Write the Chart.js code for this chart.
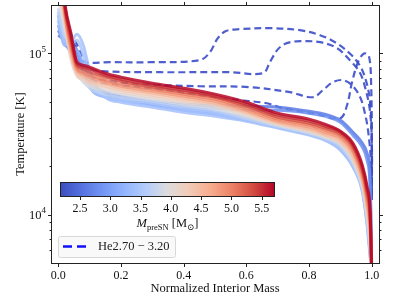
<!DOCTYPE html>
<html>
<head>
<meta charset="utf-8">
<script src="https://cdn.jsdelivr.net/npm/chart.js@4.4.1/dist/chart.umd.min.js"></script>
<style>
  html, body { margin: 0; padding: 0; background: #fff; }
  #wrap { width: 399px; height: 299px; }
</style>
</head>
<body>
<div id="wrap"><canvas id="chart"></canvas></div>
<script>
// normalized interior mass grid shared by the coloured runs
var massGrid = [0, 0.02, 0.04, 0.06, 0.08, 0.1, 0.15, 0.2, 0.3, 0.4, 0.5, 0.6, 0.7, 0.8, 0.85, 0.9, 0.94, 0.97, 0.985, 0.995, 1.0];

// pre-SN masses [Msun] of the coloured runs
var preSNMasses = [2.6, 2.8, 3.0, 3.2, 3.4, 3.5, 3.7, 3.9, 4.1, 4.3, 4.5, 4.8, 5.0, 5.3, 5.5, 5.7];

// temperature [K] along massGrid, one array per run
var tempM26 = [129900, 120900, 104800, 93500, 81000, 66300, 57500, 54300, 50500, 48400, 47700, 47100, 46400, 43800, 42000, 38500, 32400, 27700, 24000, 16300, 4200];
var tempM28 = [139500, 117500, 101900, 90900, 76500, 62600, 55900, 53500, 49100, 47100, 45700, 44400, 44400, 42600, 40800, 37400, 31100, 26200, 21700, 14200, 4200];
var tempM30 = [150000, 114200, 107900, 97600, 78800, 64500, 55100, 52800, 48400, 45700, 43200, 39600, 35400, 32000, 30200, 26600, 20800, 14600, 9480, 6000, 4200];
var tempM32 = [173000, 117500, 111000, 104800, 84600, 62600, 53500, 51300, 47700, 44400, 42000, 38500, 34900, 31500, 29400, 25400, 20000, 14200, 8960, 5590, 4200];
var tempM34 = [161000, 112600, 117500, 131800, 112600, 78800, 53500, 49800, 46400, 43200, 40800, 38000, 34400, 31100, 28900, 25100, 19700, 13800, 8580, 5350, 4200];
var tempM35 = [180500, 120900, 114200, 120900, 97600, 68300, 54300, 52000, 49100, 45700, 43200, 39100, 34900, 31500, 29400, 25800, 20200, 14200, 8960, 5670, 4200];
var tempM37 = [191000, 129900, 117500, 88300, 68300, 60900, 55900, 53500, 50500, 47100, 44400, 39600, 35400, 32000, 29800, 26600, 20800, 14600, 9480, 6000, 4200];
var tempM39 = [214000, 150000, 104800, 76500, 66300, 62600, 58300, 55900, 52000, 48400, 45700, 40800, 35900, 32400, 30200, 27300, 21400, 15000, 9900, 6350, 4200];
var tempM41 = [247000, 156000, 93500, 72300, 68300, 64500, 60900, 57500, 53500, 49800, 47100, 41400, 36400, 32900, 30600, 27700, 22100, 15400, 10300, 6630, 4200];
var tempM43 = [285000, 166000, 97600, 74400, 70200, 66300, 62600, 59200, 55100, 51300, 48400, 42600, 36900, 33400, 31100, 28100, 22700, 15900, 10800, 6920, 4200];
var tempM45 = [329000, 173000, 101900, 76500, 72300, 68300, 64500, 60900, 56700, 52800, 49100, 43200, 37400, 33900, 31500, 28900, 23300, 16300, 11300, 7440, 4200];
var tempM48 = [380000, 180500, 107900, 78800, 74400, 71300, 66300, 62600, 58300, 54300, 50500, 44400, 38000, 34900, 32400, 29800, 24400, 17000, 11900, 7990, 4200];
var tempM50 = [438000, 186000, 112600, 81000, 76500, 73300, 68300, 64500, 60000, 55900, 52000, 45700, 39100, 35900, 33400, 30600, 25100, 17800, 12600, 8580, 4200];
var tempM53 = [505000, 197000, 120900, 83400, 79900, 76500, 71300, 67300, 61800, 57500, 53500, 47100, 40200, 36900, 34400, 31500, 26200, 18600, 13400, 9220, 4200];
var tempM55 = [583000, 205000, 128100, 85800, 82200, 79900, 73300, 69200, 63500, 59200, 54300, 48400, 41400, 38000, 35400, 32400, 26900, 19400, 14200, 9900, 4200];
var tempM57 = [673000, 214000, 135600, 88300, 84600, 82200, 75400, 71300, 65400, 60900, 55900, 49800, 42600, 39100, 36400, 32900, 27700, 20200, 15000, 10300, 4200];

var runTemps = [tempM26, tempM28, tempM30, tempM32, tempM34, tempM35, tempM37, tempM39,
                tempM41, tempM43, tempM45, tempM48, tempM50, tempM53, tempM55, tempM57];

// He2.70 - 3.20 runs (dashed): mass coordinate and temperature [K]
var heMassA = [0.037, 0.065, 0.085, 0.165, 0.293, 0.452, 0.484, 0.509, 0.535, 0.580, 0.675, 0.771, 0.835, 0.883, 0.930, 0.963, 0.981, 0.994, 1.0, 1.0];
var heTempA = [139500, 97600, 88300, 88300, 88300, 90900, 102000, 124500, 137800, 141600, 143600, 139500, 129900, 117500, 100000, 83400, 68300, 51300, 28900, 12300];
var heMassB = [0.053, 0.101, 0.139, 0.325, 0.548, 0.653, 0.675, 0.701, 0.729, 0.771, 0.835, 0.889, 0.930, 0.963, 0.981, 0.994, 1.0, 1.0];
var heTempB = [120900, 81000, 77600, 76500, 76500, 75400, 88300, 106400, 115900, 119200, 117500, 107900, 90900, 75400, 59200, 44400, 28900, 12300];
var heMassC = [0.053, 0.101, 0.197, 0.340, 0.452, 0.611, 0.739, 0.812, 0.844, 0.876, 0.908, 0.937, 0.963, 0.978, 0.988, 0.997, 1.0];
var heTempC = [112600, 73300, 66300, 63500, 62600, 61800, 57500, 53500, 59200, 66300, 68300, 63500, 53500, 42600, 33400, 21700, 12300];
var heMassD = [0.053, 0.101, 0.197, 0.293, 0.452, 0.548, 0.665, 0.716, 0.825, 0.899, 0.921, 0.937, 0.956, 0.975, 0.991, 0.998, 1.0, 1.0];
var heTempD = [104800, 70200, 63500, 60900, 55100, 52000, 49100, 45700, 42000, 39600, 47700, 66300, 88300, 100000, 96200, 63500, 28900, 12300];

var heRuns = [[heMassA, heTempA], [heMassB, heTempB], [heMassC, heTempC], [heMassD, heTempD]];

// ticks
var xTicks = [0.0, 0.2, 0.4, 0.6, 0.8, 1.0];
var yMajorTicks = [1e4, 1e5];
var yMinorTicks = [6000, 7000, 8000, 9000, 20000, 30000, 40000, 50000, 60000, 70000, 80000, 90000];
var cbTicks = [2.5, 3.0, 3.5, 4.0, 4.5, 5.0, 5.5];
var cbMin = 2.17, cbMax = 5.72;

var SERIF = '"Liberation Serif", "DejaVu Serif", serif';

// matplotlib coolwarm, sampled every 0.1
var cwStops = [[59,76,192],[85,114,223],[115,150,245],[147,181,254],[181,205,250],[221,220,220],
               [242,203,183],[247,172,142],[236,129,101],[210,75,64],[180,4,38]];
function coolwarm(t, a) {
    t = Math.max(0, Math.min(1, t));
    var f = t * 10, i = Math.min(9, Math.floor(f)), r = f - i;
    var c0 = cwStops[i], c1 = cwStops[i + 1];
    var c = [0, 1, 2].map(function(k) { return Math.round(c0[k] + (c1[k] - c0[k]) * r); });
    return 'rgba(' + c[0] + ',' + c[1] + ',' + c[2] + ',' + (a === undefined ? 1 : a) + ')';
}

var datasets = [];
preSNMasses.forEach(function(m, i) {
    datasets.push({
        data: massGrid.map(function(x, j) { return { x: x, y: runTemps[i][j] }; }),
        borderColor: coolwarm((m - cbMin) / (cbMax - cbMin), 0.85),
        borderWidth: 3,
        pointRadius: 0,
        cubicInterpolationMode: 'monotone',
        clip: 0,
        order: preSNMasses.length - i
    });
});
heRuns.forEach(function(run) {
    datasets.push({
        data: run[0].map(function(x, j) { return { x: x, y: run[1][j] }; }),
        borderColor: 'rgba(59,76,200,0.9)',
        borderWidth: 2.2,
        borderDash: [7, 4],
        pointRadius: 0,
        tension: 0.35,
        clip: 0,
        order: 100
    });
});

// frame, tick marks, y labels, colorbar and legend
var decorations = {
    id: 'decorations',
    afterDraw: function(chart) {
        var ctx = chart.ctx, a = chart.chartArea;
        var xs = chart.scales.x, ys = chart.scales.y;
        var L = Math.round(a.left) + 0.5, R = Math.round(a.right) + 0.5;
        var T = Math.round(a.top) + 0.5, B = Math.round(a.bottom) + 0.5;
        ctx.save();
        ctx.strokeStyle = '#222';
        ctx.lineWidth = 1;
        ctx.strokeRect(L, T, R - L, B - T);

        ctx.beginPath();
        xTicks.forEach(function(v) {
            var px = Math.round(xs.getPixelForValue(v)) + 0.5;
            ctx.moveTo(px, B); ctx.lineTo(px, B + 3.5);
            ctx.moveTo(px, T); ctx.lineTo(px, T - 3.5);
        });
        yMajorTicks.forEach(function(v) {
            var py = Math.round(ys.getPixelForValue(v)) + 0.5;
            ctx.moveTo(L - 3.5, py); ctx.lineTo(L, py);
            ctx.moveTo(R, py); ctx.lineTo(R + 3.5, py);
        });
        yMinorTicks.forEach(function(v) {
            var py = Math.round(ys.getPixelForValue(v)) + 0.5;
            ctx.moveTo(L - 2, py); ctx.lineTo(L, py);
            ctx.moveTo(R, py); ctx.lineTo(R + 2, py);
        });
        ctx.stroke();

        // y tick labels 10^k
        ctx.fillStyle = '#111';
        ctx.textAlign = 'right';
        ctx.textBaseline = 'alphabetic';
        yMajorTicks.forEach(function(v) {
            var py = ys.getPixelForValue(v);
            var exp = String(Math.round(Math.log10(v)));
            var xr = a.left - 5;
            ctx.font = '9px ' + SERIF;
            var ew = ctx.measureText(exp).width;
            ctx.fillText(exp, xr, py - 1.5);
            ctx.font = '12.5px ' + SERIF;
            ctx.fillText('10', xr - ew, py + 4.5);
        });

        // colorbar
        var cx0 = 60, cx1 = 275, cy0 = 182, cy1 = 197;
        var grad = ctx.createLinearGradient(cx0, 0, cx1, 0);
        cwStops.forEach(function(c, k) {
            grad.addColorStop(k / 10, 'rgb(' + c.join(',') + ')');
        });
        ctx.fillStyle = grad;
        ctx.fillRect(cx0, cy0, cx1 - cx0, cy1 - cy0);
        ctx.strokeStyle = '#222';
        ctx.strokeRect(cx0 + 0.5, cy0 + 0.5, cx1 - cx0 - 1, cy1 - cy0 - 1);
        ctx.fillStyle = '#111';
        ctx.textAlign = 'center';
        ctx.textBaseline = 'middle';
        ctx.font = '12px ' + SERIF;
        ctx.beginPath();
        cbTicks.forEach(function(v) {
            var px = cx0 + (v - cbMin) / (cbMax - cbMin) * (cx1 - cx0);
            ctx.moveTo(Math.round(px) + 0.5, cy1);
            ctx.lineTo(Math.round(px) + 0.5, cy1 + 3);
            ctx.fillText(v.toFixed(1), px, 208.5);
        });
        ctx.stroke();

        // colorbar label: M_preSN [M_sun]
        var parts = [
            ['M', 'italic 12.5px ' + SERIF, 0],
            ['preSN', '8.5px ' + SERIF, 3],
            [' [M', '12.5px ' + SERIF, 0],
            ['\u2299', '8.5px ' + SERIF, 3],
            [']', '12.5px ' + SERIF, 0]
        ];
        var total = 0;
        parts.forEach(function(p) { ctx.font = p[1]; p.push(ctx.measureText(p[0]).width); total += p[3]; });
        var tx = (cx0 + cx1) / 2 - total / 2;
        ctx.textAlign = 'left';
        ctx.textBaseline = 'alphabetic';
        parts.forEach(function(p) {
            ctx.font = p[1];
            ctx.fillText(p[0], tx, 227 + p[2]);
            tx += p[3];
        });

        // legend
        var lx = 58, ly = 236, lw = 117, lh = 21;
        ctx.beginPath();
        ctx.roundRect(lx + 0.5, ly + 0.5, lw, lh, 2);
        ctx.fillStyle = 'rgba(248,248,248,0.85)';
        ctx.fill();
        ctx.strokeStyle = '#d8d8d8';
        ctx.stroke();
        ctx.beginPath();
        ctx.setLineDash([9, 5]);
        ctx.strokeStyle = '#1010ff';
        ctx.lineWidth = 2.5;
        ctx.moveTo(63, 246.5); ctx.lineTo(88, 246.5);
        ctx.stroke();
        ctx.setLineDash([]);
        ctx.fillStyle = '#222';
        ctx.font = '12.5px ' + SERIF;
        ctx.textBaseline = 'middle';
        ctx.fillText('He2.70 \u2212 3.20', 98, 247);
        ctx.restore();
    }
};

new Chart(document.getElementById('chart'), {
    type: 'line',
    data: { datasets: datasets },
    options: {
        responsive: true,
        maintainAspectRatio: false,
        animation: false,
        devicePixelRatio: 1,
        layout: { padding: { top: 5, right: 20, left: 0, bottom: 0 } },
        plugins: { legend: { display: false }, tooltip: { enabled: false } },
        scales: {
            x: {
                type: 'linear', min: -0.023, max: 1.023,
                grid: { display: false, drawTicks: false },
                border: { display: false },
                afterBuildTicks: function(s) { s.ticks = xTicks.map(function(v) { return { value: v }; }); },
                ticks: {
                    font: { family: SERIF, size: 12 }, color: '#111', padding: 6,
                    maxRotation: 0, autoSkip: false,
                    callback: function(v) { return Number(v).toFixed(1); }
                },
                title: {
                    display: true, text: 'Normalized Interior Mass',
                    font: { family: SERIF, size: 12.5 }, color: '#111',
                    padding: { top: 0, bottom: 3 }
                },
                afterFit: function(s) { s.height = 36; }
            },
            y: {
                type: 'logarithmic', min: 5000, max: 200000,
                grid: { display: false, drawTicks: false },
                border: { display: false },
                ticks: { display: false },
                title: {
                    display: true, text: 'Temperature [K]',
                    font: { family: SERIF, size: 12.5 }, color: '#111',
                    padding: { top: 13, bottom: 0 }
                },
                afterFit: function(s) { s.width = 51; }
            }
        }
    },
    plugins: [decorations]
});
</script>
</body>
</html>
